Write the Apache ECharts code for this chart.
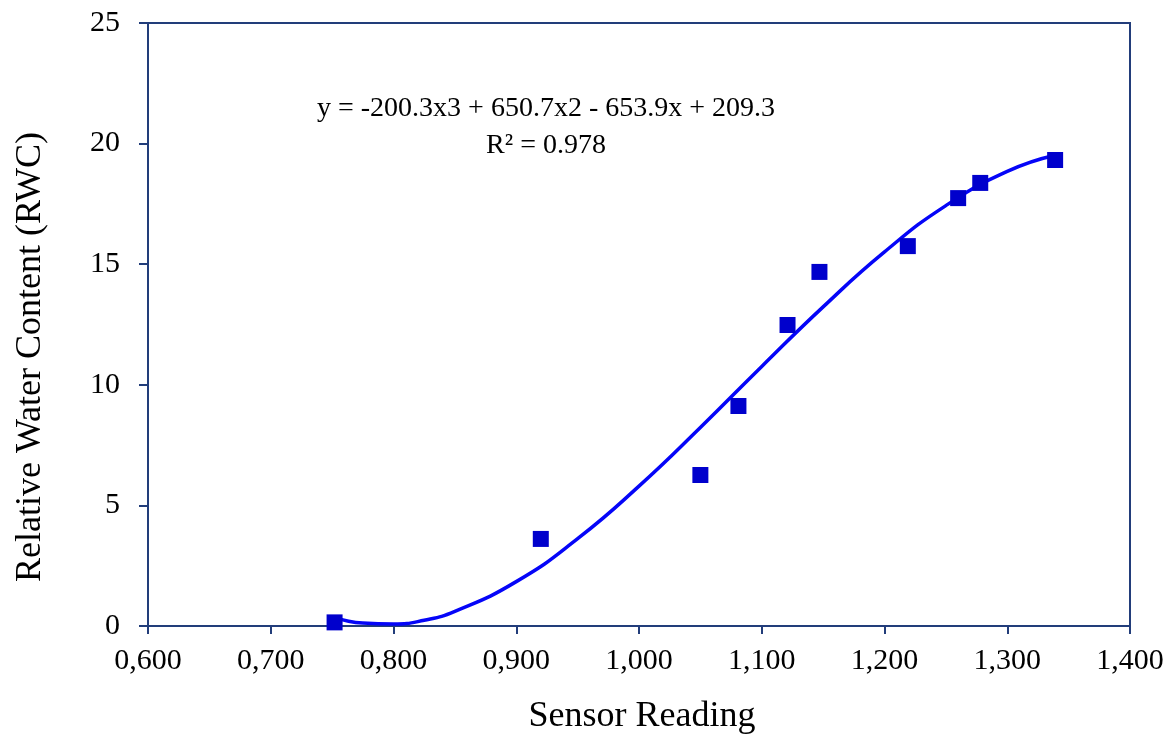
<!DOCTYPE html>
<html>
<head>
<meta charset="utf-8">
<script src="https://cdn.jsdelivr.net/npm/echarts@6/dist/echarts.min.js"></script>
<style>html,body{margin:0;padding:0;background:#fff;}#c{width:1167px;height:738px;}</style>
</head>
<body>
<div id="c"></div>
<script>
// Measured points (Sensor Reading, RWC)
const sensorX = [0.752, 0.920, 1.050, 1.081, 1.121, 1.147, 1.219, 1.260, 1.278, 1.339];
const rwcY    = [0.15, 3.61, 6.26, 9.12, 12.48, 14.68, 15.75, 17.74, 18.37, 19.32];
// Trend line
const trendX = [0.752, 0.775, 0.80, 0.825, 0.85, 0.90, 0.95, 1.00, 1.05, 1.10, 1.15, 1.20, 1.25, 1.30, 1.339];
const trendY = [0.36, 0.12, 0.08, 0.24, 0.61, 1.84, 3.62, 5.80, 8.23, 10.76, 13.23, 15.51, 17.43, 18.85, 19.52];
const equationText = 'y = -200.3x3 + 650.7x2 - 653.9x + 209.3';
const r2Text = 'R² = 0.978';
const xTitle = 'Sensor Reading';
const yTitle = 'Relative Water Content (RWC)';

const font = '"Liberation Serif", "Times New Roman", serif';
const axisColor = '#223d7a';
const chart = echarts.init(document.getElementById('c'));
const pts = sensorX.map((x, i) => [x, rwcY[i]]);
const trend = trendX.map((x, i) => [x, trendY[i]]);

chart.setOption({
  animation: false,
  backgroundColor: '#fff',
  grid: { left: 148, right: 37, top: 23, bottom: 112, show: true, borderColor: axisColor, borderWidth: 2, backgroundColor: 'transparent' },
  xAxis: {
    type: 'value', min: 0.6, max: 1.4, interval: 0.1,
    axisLine: { show: true, onZero: false, lineStyle: { color: axisColor, width: 2 } },
    axisTick: { show: true, length: 8, lineStyle: { color: axisColor, width: 2 } },
    splitLine: { show: false },
    axisLabel: { fontFamily: font, fontSize: 30, color: '#000', margin: 20,
      formatter: v => v.toFixed(3).replace('.', ',') }
  },
  yAxis: {
    type: 'value', min: 0, max: 25, interval: 5,
    axisLine: { show: true, lineStyle: { color: axisColor, width: 2 } },
    axisTick: { show: true, length: 9, lineStyle: { color: axisColor, width: 2 } },
    splitLine: { show: false },
    axisLabel: { fontFamily: font, fontSize: 30, color: '#000', margin: 28 }
  },
  graphic: [
    { type: 'text', style: { text: equationText, font: '28px ' + font, fill: '#000', textAlign: 'center' }, position: [546, 95] },
    { type: 'text', style: { text: r2Text, font: '28px ' + font, fill: '#000', textAlign: 'center' }, position: [546, 132] },
    { type: 'text', style: { text: xTitle, font: '36px ' + font, fill: '#000', textAlign: 'center', textVerticalAlign: 'middle' }, position: [642, 717] },
    { type: 'text', style: { text: yTitle, font: '36px ' + font, fill: '#000', textAlign: 'center', textVerticalAlign: 'middle' }, position: [31, 357], rotation: Math.PI / 2 }
  ],
  series: [
    { type: 'line', data: trend, smooth: true, showSymbol: false, symbol: 'none',
      lineStyle: { color: '#0505f8', width: 3.5 }, z: 2 },
    { type: 'scatter', data: pts, symbol: 'rect', symbolSize: 16,
      itemStyle: { color: '#0000cc', opacity: 1 }, z: 3 }
  ]
});
</script>
</body>
</html>
